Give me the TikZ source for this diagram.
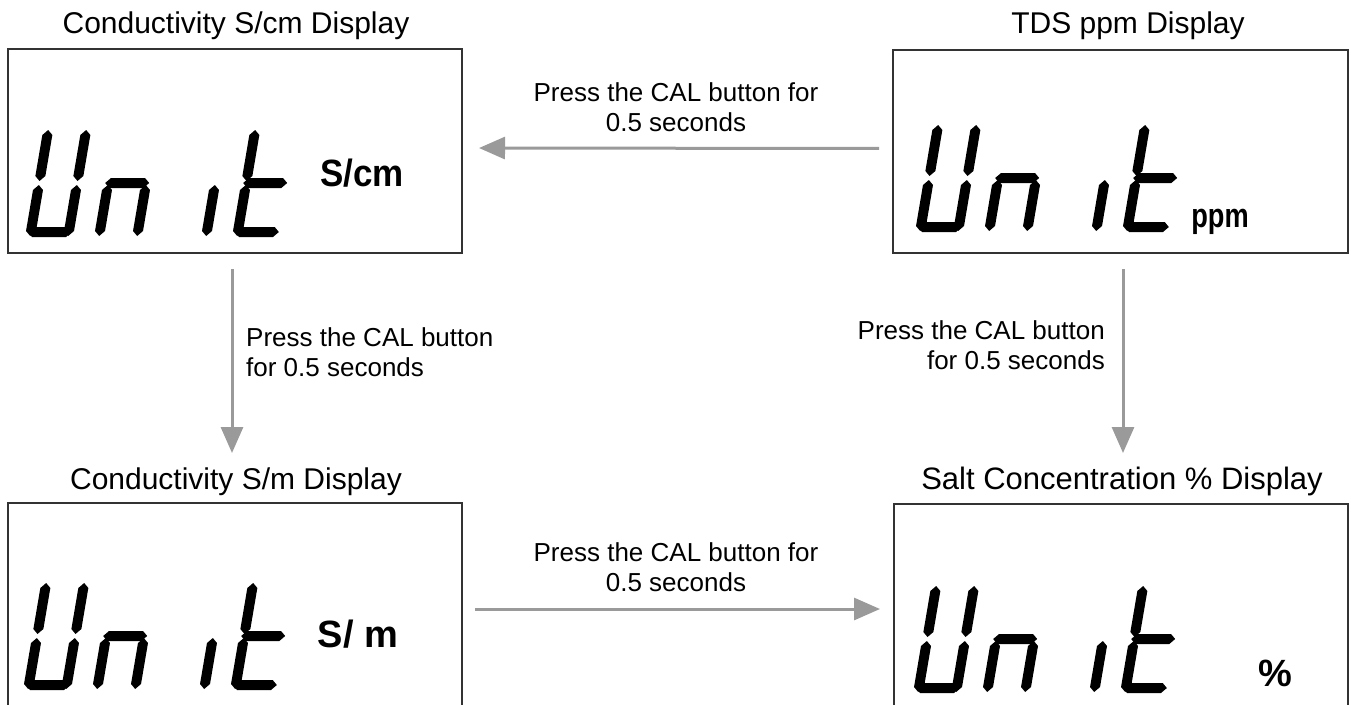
\documentclass[tikz,border=0pt]{standalone}
\usepackage{fontspec}
\usepackage{graphicx}
\setmainfont{Liberation Sans}
\usetikzlibrary{arrows.meta}
\definecolor{boxcol}{HTML}{333333}
\definecolor{arrcol}{HTML}{9A9A9A}
% vertical segment: x from #1 to #1+10, y from #2 to #3
\newcommand\SegV[3]{\fill (#1+5,#2) -- (#1+10,#2+5) -- (#1+10,#3-5) -- (#1+5,#3) -- (#1,#3-5) -- (#1,#2+5) -- cycle;}
% horizontal segment: y from #1 to #1+10, x from #2 to #3
\newcommand\SegH[3]{\fill (#2,#1+5) -- (#2+5,#1+10) -- (#3-5,#1+10) -- (#3,#1+5) -- (#3-5,#1) -- (#2+5,#1) -- cycle;}
\newcommand\sgA{\SegH{98}{2}{46}}
\newcommand\sgB{\SegV{38}{56}{107}}
\newcommand\sgC{\SegV{38}{1}{52}}
\newcommand\sgD{\SegH{0}{2}{46}}
\newcommand\sgE{\SegV{0}{1}{52}}
\newcommand\sgF{\SegV{0}{56}{107}}
\newcommand\sgG{\SegH{49}{2}{46}}
\newcommand\LcdDigit[3]{\begin{scope}[shift={(#1,#2)}, y=1pt, xslant=0.17]#3\end{scope}}
\newcommand\LcdUnit[2]{%
  \LcdDigit{#1}{#2}{\sgF\sgE\sgD\sgC\sgB}%
  \LcdDigit{#1+69}{#2}{\sgE\sgG\sgC}%
  \LcdDigit{#1+138}{#2}{\sgC}%
  \LcdDigit{#1+207}{#2}{\sgF\sgE\sgG\sgD}}
\begin{document}
\begin{tikzpicture}[x=1pt,y=-1pt,
  box/.style={draw=boxcol, line width=2pt, inner sep=0pt},
  arr/.style={draw=arrcol, line width=3pt, -{Triangle[length=26pt,width=22pt]}},
  ttl/.style={font=\fontsize{30}{36}\selectfont, inner sep=0pt, anchor=base},
  lbl/.style={font=\fontsize{26}{30}\selectfont, inner sep=0pt},
  unit/.style={font=\fontsize{38}{44}\selectfont\bfseries, inner sep=0pt}
]
\useasboundingbox (0,0) rectangle (1351,704);

% boxes
\node[box, minimum width=454pt, minimum height=204pt] (tl) at (235,151) {};
\node[box, minimum width=455pt, minimum height=203pt] (tr) at (1120.5,151.5) {};
\coordinate (blNW) at (8,503);
\coordinate (blNE) at (462,503);
\coordinate (brNW) at (894,504);
\coordinate (brNE) at (1348,504);
\draw[draw=boxcol, line width=2pt] (blNW |- 0,706) -- (blNW) -- (blNE) -- (blNE |- 0,706);
\draw[draw=boxcol, line width=2pt] (brNW |- 0,706) -- (brNW) -- (brNE) -- (brNE |- 0,706);

% titles
\node[ttl] (t1) at (236,33) {Conductivity S/cm Display};
\node[ttl] (t2) at (1128,33) {TDS ppm Display};
\node[ttl] (t3) at (236,489) {Conductivity S/m Display};
\node[ttl] (t4) at (1122,489) {\fontsize{31}{36}\selectfont Salt Concentration \% Display};

% LCD digits
\LcdUnit{25}{237}
\LcdUnit{915}{232}
\LcdUnit{23}{690}
\LcdUnit{913}{693}

% unit labels
\node[unit] (u1) at (362,173) {\scalebox{0.92}[1]{S/cm}};
\node[unit, anchor=base] (u2) at (1220,227) {\scalebox{0.8}[1]{\fontsize{34}{40}\selectfont\bfseries ppm}};
\node[unit] (u3) at (358,634) {S/\ m};
\node[unit] (u4) at (1275,673) {\%};

% arrows
\coordinate (blTop) at (232,503);
\coordinate (brTop) at (1123,504);
\coordinate (blE) at (462,609);
\coordinate (brW) at (894,609);
\draw[arr, shorten <=13pt, shorten >=16pt] ([yshift=3pt]tr.west) -- ([yshift=3pt]tl.east);
\draw[arr, shorten <=15pt, shorten >=50pt] (blTop |- tl.south) -- (blTop);
\draw[arr, shorten <=15pt, shorten >=51pt] (brTop |- tr.south) -- (brTop);
\draw[arr, shorten <=13pt, shorten >=14pt] (blE) -- (brW);

% arrow labels
\node[lbl, align=center] (l1) at (676,107) {Press the CAL button for\\0.5 seconds};
\node[lbl, align=center] (l2) at (676,567) {Press the CAL button for\\0.5 seconds};
\node[lbl, align=left, anchor=west] (l3) at (246,352) {Press the CAL button\\for 0.5 seconds};
\node[lbl, align=right, anchor=east] (l4) at (1105,345) {Press the CAL button\\for 0.5 seconds};
\end{tikzpicture}
\end{document}
